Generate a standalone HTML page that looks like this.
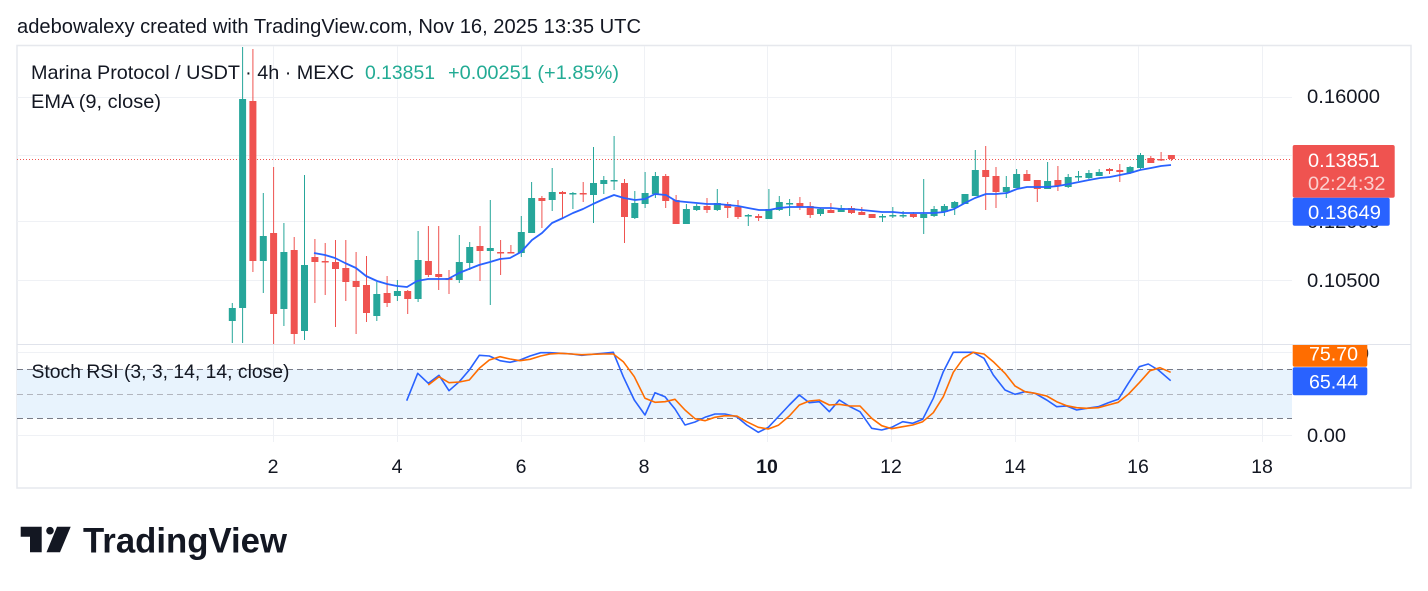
<!DOCTYPE html>
<html><head><meta charset="utf-8"><style>
html,body{margin:0;padding:0;background:#fff;}
svg{display:block;font-family:"Liberation Sans",Arial,sans-serif;}
</style></head><body>
<svg width="1428" height="591" viewBox="0 0 1428 591" xmlns="http://www.w3.org/2000/svg">
<defs>
<clipPath id="pp"><rect x="17" y="46" width="1275" height="298"/></clipPath>
<clipPath id="sp"><rect x="17" y="345" width="1275" height="97"/></clipPath>
<clipPath id="ax2"><rect x="1292" y="345" width="119" height="97"/></clipPath>
</defs>
<rect width="1428" height="591" fill="#fff"/>
<text x="17" y="33" font-size="20.5" fill="#131722" textLength="624" lengthAdjust="spacingAndGlyphs">adebowalexy created with TradingView.com, Nov 16, 2025 13:35 UTC</text>
<rect x="17" y="45.5" width="1394" height="442.5" fill="#fff" stroke="#e6e8ed" stroke-width="1.5"/>
<g stroke="#eff1f5" stroke-width="1">
<path d="M273.5 46V442M397.5 46V442M521.5 46V442M644.5 46V442M767.5 46V442M891.5 46V442M1015.5 46V442M1138.5 46V442M1262.5 46V442"/>
<path d="M17 97.5H1292M17 155.5H1292M17 221.5H1292M17 280.5H1292M17 352.5H1292M17 435.5H1292"/>
</g>
<path d="M17 344.5H1411" stroke="#e0e3eb" stroke-width="1"/>
<g clip-path="url(#pp)">
<path d="M17 159.5H1292" stroke="#ef5350" stroke-width="1" stroke-dasharray="1 2"/>
<path stroke="#26a69a" stroke-width="1" fill="none" d="M232.3 303V343M242.6 47V343M263.3 193V293M283.9 223V326M304.5 175V340M376.8 282V321M397.4 280V301M418.1 231V302M459.3 235V283M469.7 242V270M490.3 200V305M521.3 216V257M531.6 182V233M552.2 168V211M572.9 192V209M593.5 147V223M603.8 176V194M614.1 136V190M634.8 191V219M645.1 172V208M655.4 172V198M686.4 204V224M696.7 204V211M717.3 189V211M748.3 214V226M768.9 189V219M779.3 196V211M789.6 199V216M820.5 208V216M841.2 205V212M882.5 214V222M892.8 207V218M903.1 211V218M923.7 179V234M934.1 206V217M944.4 204V216M954.7 201V215M965 194V204M975.3 150V196M1006.3 176V198M1016.6 169V188M1047.6 162V189M1068.2 174V188M1078.5 171V181M1088.9 170V179M1099.2 169V176M1130.1 166V174M1140.5 153V170"/>
<g fill="#26a69a">
<rect x="228.8" y="308" width="7" height="13"/><rect x="239.1" y="99" width="7" height="209"/><rect x="259.8" y="236" width="7" height="25"/><rect x="280.4" y="252" width="7" height="57"/><rect x="301" y="265" width="7" height="66"/><rect x="373.3" y="294" width="7" height="22"/><rect x="393.9" y="291" width="7" height="5"/><rect x="414.6" y="260" width="7" height="39"/><rect x="455.8" y="262" width="7" height="18"/><rect x="466.2" y="247" width="7" height="16"/><rect x="486.8" y="248" width="7" height="3"/><rect x="517.8" y="232" width="7" height="21"/><rect x="528.1" y="198" width="7" height="35"/><rect x="548.7" y="192" width="7" height="8"/><rect x="569.4" y="193" width="7" height="1.5"/><rect x="590" y="183" width="7" height="12"/><rect x="600.3" y="180" width="7" height="4"/><rect x="610.6" y="180" width="7" height="1.5"/><rect x="631.3" y="203" width="7" height="15"/><rect x="641.6" y="193" width="7" height="11"/><rect x="651.9" y="176" width="7" height="18"/><rect x="682.9" y="209" width="7" height="15"/><rect x="693.2" y="206" width="7" height="4"/><rect x="713.8" y="203" width="7" height="7"/><rect x="744.8" y="215" width="7" height="1.5"/><rect x="765.4" y="209" width="7" height="10"/><rect x="775.8" y="202" width="7" height="8"/><rect x="786.1" y="203" width="7" height="1.5"/><rect x="817" y="209" width="7" height="5"/><rect x="837.7" y="208" width="7" height="4"/><rect x="879" y="216" width="7" height="1.5"/><rect x="889.3" y="215" width="7" height="1.5"/><rect x="899.6" y="215" width="7" height="1.5"/><rect x="920.2" y="214" width="7" height="4"/><rect x="930.6" y="209" width="7" height="7"/><rect x="940.9" y="206" width="7" height="6"/><rect x="951.2" y="202" width="7" height="6"/><rect x="961.5" y="194" width="7" height="10"/><rect x="971.8" y="170" width="7" height="26"/><rect x="1002.8" y="187" width="7" height="5"/><rect x="1013.1" y="174" width="7" height="14"/><rect x="1044.1" y="181" width="7" height="8"/><rect x="1064.7" y="177" width="7" height="10"/><rect x="1075" y="176" width="7" height="1.5"/><rect x="1085.4" y="173" width="7" height="5"/><rect x="1095.7" y="172" width="7" height="4"/><rect x="1126.6" y="167" width="7" height="6"/><rect x="1137" y="155" width="7" height="13"/>
</g>
<path stroke="#ef5350" stroke-width="1" fill="none" d="M252.9 49V272M273.6 167V344M294.2 237V344M314.9 239V303M325.2 243V295M335.5 240V327M345.8 240V301M356.1 252V334M366.5 256V322M387.1 276V307M407.7 290V314M428.4 226V277M438.7 226V290M449 270V294M480 226V281M500.6 240V275M510.9 245V253M541.9 196V228M562.5 191V218M583.2 182V202M624.5 179V243M665.7 174V208M676.1 195V224M707 198V213M727.7 202V218M738 200V219M758.6 214V221M799.9 197V210M810.2 202V218M830.9 203V213M851.5 206V214M861.8 207V215M872.1 214V218M913.4 212V218M985.7 146V210M996 167V208M1026.9 170V181M1037.3 180V202M1057.9 166V191M1109.5 168V174M1119.8 164V182M1150.8 156V163M1161.1 152V161M1171.4 155V161"/>
<g fill="#ef5350">
<rect x="249.4" y="101" width="7" height="160"/><rect x="270.1" y="233" width="7" height="81"/><rect x="290.7" y="250" width="7" height="84"/><rect x="311.4" y="257" width="7" height="5"/><rect x="321.7" y="261" width="7" height="1.5"/><rect x="332" y="262" width="7" height="7"/><rect x="342.3" y="268" width="7" height="14"/><rect x="352.6" y="281" width="7" height="6"/><rect x="363" y="285" width="7" height="28"/><rect x="383.6" y="293" width="7" height="10"/><rect x="404.2" y="291" width="7" height="8"/><rect x="424.9" y="261" width="7" height="14"/><rect x="435.2" y="274" width="7" height="3"/><rect x="445.5" y="278" width="7" height="2"/><rect x="476.5" y="246" width="7" height="5"/><rect x="497.1" y="252" width="7" height="1.5"/><rect x="507.4" y="252" width="7" height="1.5"/><rect x="538.4" y="198" width="7" height="3"/><rect x="559" y="192" width="7" height="2"/><rect x="579.7" y="193" width="7" height="1.5"/><rect x="621" y="183" width="7" height="34"/><rect x="662.2" y="176" width="7" height="25"/><rect x="672.6" y="200" width="7" height="24"/><rect x="703.5" y="206" width="7" height="4"/><rect x="724.2" y="204" width="7" height="4"/><rect x="734.5" y="207" width="7" height="10"/><rect x="755.1" y="216" width="7" height="2"/><rect x="796.4" y="203" width="7" height="4"/><rect x="806.7" y="206" width="7" height="9"/><rect x="827.4" y="210" width="7" height="3"/><rect x="848" y="208" width="7" height="5"/><rect x="858.3" y="212" width="7" height="3"/><rect x="868.6" y="214" width="7" height="4"/><rect x="909.9" y="214" width="7" height="3"/><rect x="982.2" y="170" width="7" height="7"/><rect x="992.5" y="176" width="7" height="16"/><rect x="1023.4" y="174" width="7" height="7"/><rect x="1033.8" y="180" width="7" height="9"/><rect x="1054.4" y="180" width="7" height="6"/><rect x="1106" y="169" width="7" height="2"/><rect x="1116.3" y="170" width="7" height="2"/><rect x="1147.3" y="158" width="7" height="5"/><rect x="1157.6" y="159" width="7" height="1.5"/><rect x="1167.9" y="155" width="7" height="4"/>
</g>
<polyline fill="none" stroke="#2962ff" stroke-width="1.8" stroke-linejoin="round" points="314,253 325,255 335,258 345,263 356,268 366,276 377,281 387,284 397,286 407,287 417,281 428,279 438,279 448,279 459,273 469,269 479,265 490,262 500,259 510,258 521,252 532,240 542,233 552,223 563,218 573,213 583,209 593,204 604,199 614,195 624,198 635,200 645,199 655,194 666,195 676,201 686,202 697,203 707,204 718,204 728,205 738,206 748,208 759,210 769,210 779,208 790,207 800,207 810,207 820,208 831,208 841,209 851,209 862,210 872,211 882,212 893,212 903,213 913,213 924,213 934,213 944,212 954,209 965,203 975,198 986,194 996,194 1007,193 1017,189 1027,187 1038,187 1048,187 1058,186 1069,184 1079,182 1089,180 1100,178 1110,177 1120,175 1130,173 1140,170 1151,168 1161,166 1171,165"/>
</g>
<g clip-path="url(#sp)">
<rect x="17" y="369.3" width="1275" height="49" fill="#e8f3fd"/>
<path d="M17 369.5H1292M17 418.5H1292" stroke="#787b86" stroke-width="1" stroke-dasharray="6 4"/>
<path d="M17 394.5H1292" stroke="#b2b5be" stroke-width="1" stroke-dasharray="6 4"/>
<polyline fill="none" stroke="#2962ff" stroke-width="1.6" stroke-linejoin="round" points="406.7,400.7 417.7,373.3 428.3,383.3 439,375.3 449,390.7 459.3,381.7 469.3,370 479.3,355.3 489.3,356 500,360.7 510,362.3 520,360 530,356 540.7,352.7 550,352.7 560.7,353.3 571.7,354 581.7,355.3 591.7,354.3 603.3,353.3 613.3,352.3 623.3,376.7 634.3,400 645,415 655,392.7 665,396.7 675,409 685,425 695,422 705,417.3 715,414 725,414 736.7,416.7 746.7,425 758.3,432.3 768.3,427.3 779,416 789.3,405 799.3,395 809.3,402.7 819.3,401.7 829.3,411.7 839.3,400 850,406.7 860,411.7 871.7,428.3 881.7,430 891.7,427.3 902.7,421.7 912.7,423.3 922.7,419.3 933.3,398.3 943.3,371.7 953.3,352.3 963.3,352.3 973.3,352.3 984,358.3 993.3,375 1005,390 1015,394.3 1025,391.7 1035,393.3 1046.7,400 1056.7,406.7 1066.7,406 1076.7,410 1086.7,408.3 1098.3,406.7 1108.3,402.7 1118.3,399.3 1128.3,383.3 1139.3,366.7 1148.3,364 1158.3,370 1170.7,380.7"/>
<polyline fill="none" stroke="#ff6d00" stroke-width="1.6" stroke-linejoin="round" points="428.3,385 439,376.7 449,382.7 459.3,382 469.3,380 479.3,368.3 489.3,360 500,356.7 510,359 520,360.7 530,359.3 540.7,356 550,354 560.7,353.3 571.7,354 581.7,354.7 591.7,354.3 603.3,354 613.3,354 623.3,361.7 634.3,376.7 645,398.3 655,402.3 665,401.7 675,399.3 685,410 695,418.7 705,420.7 715,417.3 725,415.7 736.7,416 746.7,421.7 758.3,427.3 768.3,429 778.3,425.3 789.3,416 799.3,405 809.3,401 819.3,400 829.3,405 839.3,404.3 850,406 860,406 871.7,418.3 881.7,425.7 891.7,428.7 902.7,426.7 912.7,425 922.7,421.7 933.3,412.7 943.3,396.7 953.3,372.3 963.3,358.3 973.3,352.3 984,354 993.3,361.7 1005,373.3 1015,386 1025,391.7 1035,393.3 1046.7,396 1056.7,401.7 1066.7,405.7 1076.7,407.7 1086.7,408.3 1098.3,407.7 1108.3,405 1118.3,402.3 1128.3,394.3 1139.3,382.7 1150,370.7 1160,367.7 1170.7,372.3"/>
</g>
<g fill="#131722" font-size="19.5">
<text x="31" y="79" textLength="323" lengthAdjust="spacingAndGlyphs">Marina Protocol / USDT · 4h · MEXC</text>
<text x="365" y="79" fill="#22ab94" textLength="70" lengthAdjust="spacingAndGlyphs">0.13851</text>
<text x="448" y="79" fill="#22ab94" textLength="171" lengthAdjust="spacingAndGlyphs">+0.00251 (+1.85%)</text>
<text x="31" y="108" textLength="130" lengthAdjust="spacingAndGlyphs">EMA (9, close)</text>
<text x="31.5" y="378" textLength="258" lengthAdjust="spacingAndGlyphs">Stoch RSI (3, 3, 14, 14, close)</text>
</g>
<g fill="#131722" font-size="19.5">
<text x="1307" y="103" textLength="73" lengthAdjust="spacingAndGlyphs">0.16000</text>
<text x="1307" y="228" textLength="73" lengthAdjust="spacingAndGlyphs">0.12000</text>
<text x="1307" y="287" textLength="73" lengthAdjust="spacingAndGlyphs">0.10500</text>
<g clip-path="url(#ax2)">
<text x="1307" y="360" textLength="62" lengthAdjust="spacingAndGlyphs">100.00</text>
<text x="1307" y="442" textLength="39" lengthAdjust="spacingAndGlyphs">0.00</text>
</g>
</g>
<rect x="1292.7" y="145" width="102" height="52.7" rx="2" fill="#ef5350"/>
<text x="1308" y="167" font-size="19.5" fill="#fff" textLength="72" lengthAdjust="spacingAndGlyphs">0.13851</text>
<text x="1308" y="190" font-size="19.5" fill="#fff" fill-opacity="0.72" textLength="77.5" lengthAdjust="spacingAndGlyphs">02:24:32</text>
<rect x="1292.7" y="197.7" width="97" height="28" rx="2" fill="#2962ff"/>
<text x="1308" y="219" font-size="19.5" fill="#fff" textLength="73" lengthAdjust="spacingAndGlyphs">0.13649</text>
<g clip-path="url(#ax2)">
<rect x="1292.7" y="340" width="74.6" height="26.7" rx="2" fill="#ff6d00"/>
<text x="1309" y="360.5" font-size="19.5" fill="#fff" textLength="49" lengthAdjust="spacingAndGlyphs">75.70</text>
<rect x="1292.7" y="367.3" width="74.6" height="28" rx="2" fill="#2962ff"/>
<text x="1309" y="388.5" font-size="19.5" fill="#fff" textLength="49" lengthAdjust="spacingAndGlyphs">65.44</text>
</g>
<g fill="#131722" font-size="19.5" text-anchor="middle">
<text x="273" y="473">2</text>
<text x="397" y="473">4</text>
<text x="521" y="473">6</text>
<text x="644" y="473">8</text>
<text x="767" y="473" font-weight="bold">10</text>
<text x="891" y="473">12</text>
<text x="1015" y="473">14</text>
<text x="1138" y="473">16</text>
<text x="1262" y="473">18</text>
</g>
<g fill="#131722">
<path d="M20.7 526.7H41.7V552.3H30V536.7H20.7Z"/>
<circle cx="50" cy="530.7" r="3.8"/>
<path d="M57 526.7H70.7L60 552.3H46.5Z"/>
<text x="83" y="552.3" font-size="35" font-weight="bold" textLength="204" lengthAdjust="spacingAndGlyphs">TradingView</text>
</g>
</svg>
</body></html>
